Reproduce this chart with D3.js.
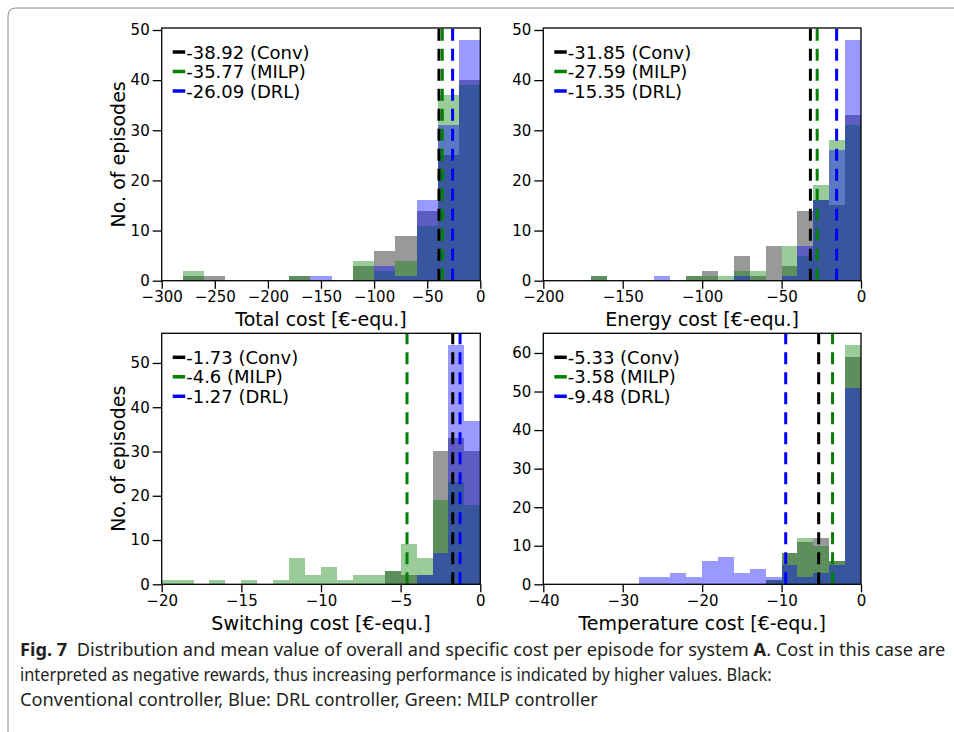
<!DOCTYPE html>
<html><head><meta charset="utf-8">
<script src="https://cdn.jsdelivr.net/npm/d3@7"></script>
<style>body{margin:0;background:#fff}</style>
</head><body>
<svg id="chart" width="954" height="732"></svg>
<script>
// ---------------- DATA ----------------
const seriesNames = ["Conv", "MILP", "DRL"];

// Total cost (bin edges, width 20)
const totalEdges = [-280,-260,-240,-220,-200,-180,-160,-140,-120,-100,-80,-60,-40,-20,0];
const totalConv  = [1,1,0,0,0,1,0,0,3,6,9,14,25,40];
const totalMilp  = [2,0,0,0,0,1,0,0,4,2,4,11,37,39];
const totalDrl   = [0,0,0,0,0,0,1,0,0,3,1,16,31,48];
const totalMeans = [-38.92, -35.77, -26.09];
const totalXTicks = [-300,-250,-200,-150,-100,-50,0];

// Energy cost (bin edges, width 10)
const energyEdges = [-170,-160,-150,-140,-130,-120,-110,-100,-90,-80,-70,-60,-50,-40,-30,-20,-10,0];
const energyConv  = [1,0,0,0,0,0,1,2,0,5,1,7,3,14,16,15,33];
const energyMilp  = [1,0,0,0,0,0,1,1,1,2,2,0,7,5,19,28,31];
const energyDrl   = [0,0,0,0,1,0,0,0,0,1,0,0,1,7,16,26,48];
const energyMeans = [-31.85, -27.59, -15.35];
const energyXTicks = [-200,-150,-100,-50,0];

// Switching cost (bin edges, width 1)
const switchEdges = [-20,-19,-18,-17,-16,-15,-14,-13,-12,-11,-10,-9,-8,-7,-6,-5,-4,-3,-2,-1,0];
const switchConv  = [0,0,0,0,0,0,0,0,0,0,0,0,0,0,3,2,2,30,33,30];
const switchMilp  = [1,1,0,1,0,1,0,1,6,2,4,1,2,2,3,9,6,19,23,18];
const switchDrl   = [0,0,0,0,0,0,0,0,0,0,0,0,0,0,0,0,2,7,54,37];
const switchMeans = [-1.73, -4.6, -1.27];
const switchXTicks = [-20,-15,-10,-5,0];

// Temperature cost (bin edges, width 2)
const tempEdges = [-28,-26,-24,-22,-20,-18,-16,-14,-12,-10,-8,-6,-4,-2,0];
const tempConv  = [0,0,0,0,0,0,0,0,1,8,11,12,6,59];
const tempMilp  = [0,0,0,0,0,0,0,0,1,8,12,10,6,62];
const tempDrl   = [2,2,3,2,6,7,3,4,2,5,2,3,5,51];
const tempMeans = [-5.33, -3.58, -9.48];
const tempXTicks = [-40,-30,-20,-10,0];

const yTicksA = [0,10,20,30,40,50];
const yTicksB = [0,10,20,30,40,50,60];

const xLabels = ["Total cost [€-equ.]", "Energy cost [€-equ.]", "Switching cost [€-equ.]", "Temperature cost [€-equ.]"];
const yLabel = "No. of episodes";

const captionLines = [
  [["Fig. 7", true], ["  Distribution and mean value of overall and specific cost per episode for system ", false], ["A", true], [". Cost in this case are", false]],
  [["interpreted as negative rewards, thus increasing performance is indicated by higher values. Black:", false]],
  [["Conventional controller, Blue: DRL controller, Green: MILP controller", false]]
];

// ---------------- STYLE / LAYOUT ----------------
const barColors = ["#000000", "#008000", "#0000ff"];
const lineColors = ["#000000", "#008000", "#0000ff"];
const FONT = "DejaVu Sans, sans-serif";

const panels = [
  {l:161.7, r:480.3, t:28,    b:280.7, edges: totalEdges,  series:[totalConv, totalMilp, totalDrl],    means: totalMeans,  xDomain:[-300,0], xTicks: totalXTicks,  yTicks: yTicksA, xLabel: xLabels[0], showY: true},
  {l:543.3, r:861,   t:28,    b:280.7, edges: energyEdges, series:[energyConv, energyMilp, energyDrl], means: energyMeans, xDomain:[-200,0], xTicks: energyXTicks, yTicks: yTicksA, xLabel: xLabels[1], showY: false},
  {l:161.7, r:480.3, t:333.3, b:584.3, edges: switchEdges, series:[switchConv, switchMilp, switchDrl], means: switchMeans, xDomain:[-20,0],  xTicks: switchXTicks, yTicks: yTicksA, xLabel: xLabels[2], showY: true},
  {l:543.3, r:861,   t:333.3, b:584.3, edges: tempEdges,   series:[tempConv, tempMilp, tempDrl],       means: tempMeans,   xDomain:[-40,0],  xTicks: tempXTicks,   yTicks: yTicksB, xLabel: xLabels[3], showY: false}
];

const svg = d3.select("#chart");
svg.append("rect").attr("width", 954).attr("height", 732).attr("fill", "#fff");

// page frame (rounded corner at top-left)
svg.append("path")
  .attr("d", "M8,732 L8,16 Q8,8 16,8 L954,8")
  .attr("fill", "none").attr("stroke", "#8a8a8a").attr("stroke-width", 1);

panels.forEach(p => {
  const ymax = d3.max(p.series, s => d3.max(s)) * 1.05;
  const x = d3.scaleLinear().domain(p.xDomain).range([p.l, p.r]);
  const y = d3.scaleLinear().domain([0, ymax]).range([p.b, p.t]);
  const g = svg.append("g");

  // bars
  p.series.forEach((s, si) => {
    const bins = s.map((c, j) => ({c, e0: p.edges[j], e1: p.edges[j+1]})).filter(d => d.c > 0);
    g.append("g").selectAll("rect").data(bins).join("rect")
      .attr("x", d => Math.round(x(d.e0)))
      .attr("width", d => Math.round(x(d.e1)) - Math.round(x(d.e0)))
      .attr("y", d => Math.round(y(d.c)))
      .attr("height", d => Math.round(y(0)) - Math.round(y(d.c)))
      .attr("fill", barColors[si]).attr("fill-opacity", 0.4)
      .attr("shape-rendering", "crispEdges");
  });

  // mean lines (drawn bottom to top like axvline)
  p.means.forEach((m, i) => {
    g.append("path")
      .attr("d", `M${x(m)},${p.b} L${x(m)},${p.t}`)
      .attr("stroke", lineColors[i]).attr("stroke-width", 3)
      .attr("stroke-dasharray", "12,8").attr("fill", "none");
  });

  // axes
  const xAxis = d3.axisBottom(x).tickValues(p.xTicks).tickSize(8).tickPadding(3).tickFormat(d3.format("d"));
  const yAxis = d3.axisLeft(y).tickValues(p.yTicks).tickSize(9).tickPadding(3).tickFormat(d3.format("d"));
  const gx = g.append("g").attr("transform", `translate(0,${p.b})`).call(xAxis);
  const gy = g.append("g").attr("transform", `translate(${p.l},0)`).call(yAxis);
  [gx, gy].forEach(a => {
    a.select(".domain").remove();
    a.selectAll("line").attr("stroke", "#000").attr("stroke-width", 1.3);
    a.selectAll("text").attr("font-family", FONT).attr("font-size", 15).attr("fill", "#000");
  });

  // spines
  g.append("rect").attr("x", p.l).attr("y", p.t).attr("width", p.r - p.l).attr("height", p.b - p.t)
    .attr("fill", "none").attr("stroke", "#000").attr("stroke-width", 1.3);

  // x label
  g.append("text").attr("x", (p.l + p.r) / 2).attr("y", p.b + 45.5)
    .attr("text-anchor", "middle").attr("font-family", FONT).attr("font-size", 19)
    .text(p.xLabel);

  // y label
  if (p.showY) {
    g.append("text").attr("transform", `translate(125,${(p.t + p.b) / 2}) rotate(-90)`)
      .attr("text-anchor", "middle").attr("font-family", FONT).attr("font-size", 19)
      .text(yLabel);
  }

  // legend
  p.means.forEach((m, i) => {
    const ly = p.t + 24 + i * 19.5;
    g.append("line").attr("x1", p.l + 11).attr("x2", p.l + 23.5).attr("y1", ly).attr("y2", ly)
      .attr("stroke", lineColors[i]).attr("stroke-width", 3.5);
    g.append("text").attr("x", p.l + 24.5).attr("y", ly + 6.5)
      .attr("font-family", FONT).attr("font-size", 18)
      .text(`${m} (${seriesNames[i]})`);
  });
});

// caption: each line condensed horizontally to its measured width in the reference
const capTargets = [926, 752, 578];
const capBase = [656, 681, 706];
captionLines.forEach((line, i) => {
  const t = svg.append("text").attr("x", 0).attr("y", 0)
    .attr("font-family", "Noto Sans, sans-serif").attr("font-size", 18.5).attr("fill", "#231f20")
    .attr("xml:space", "preserve").style("white-space", "pre");
  line.forEach(([txt, bold]) => {
    t.append("tspan").attr("font-weight", bold ? "bold" : "normal").text(txt);
  });
  const w = t.node().getComputedTextLength();
  t.attr("transform", `translate(20,${capBase[i]}) scale(${capTargets[i] / w},1)`);
});
</script>
</body></html>
